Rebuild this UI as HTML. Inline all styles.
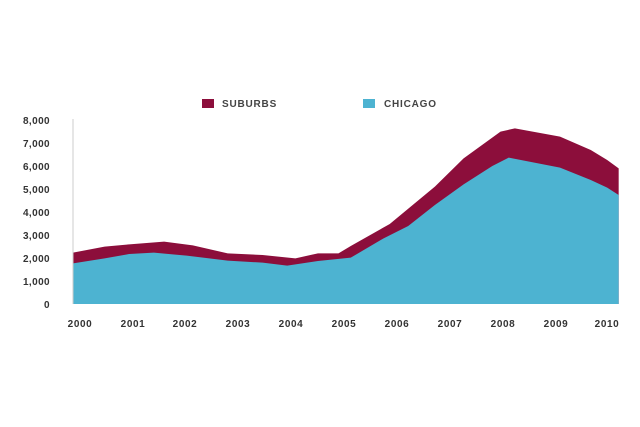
<!DOCTYPE html>
<html><head><meta charset="utf-8"><style>
body{margin:0;background:#fff;}
svg{display:block;font-family:"Liberation Sans",sans-serif;font-weight:bold;}
</style></head><body>
<svg width="640" height="427" viewBox="0 0 640 427">
<rect width="640" height="427" fill="#fff"/>
<g transform="translate(0,90) scale(0.41026,0.33333)">
<polygon fill="#8c0e3b" points="178,642 178,488 255,470 315,463 400,455 470,466 555,490 640,495 720,505 775,490 825,490 855,468 950,402 1060,290 1130,205 1220,125 1255,115 1365,140 1440,180 1480,210 1508,235 1508,642"/>
<polygon fill="#4db3d1" points="178,642 178,520 255,505 315,492 375,488 455,497 555,512 640,518 700,527 775,513 855,503 935,445 995,408 1060,345 1130,283 1200,228 1240,203 1290,215 1365,233 1440,270 1480,293 1508,315 1508,642"/>
</g>
<line x1="73" y1="119" x2="73" y2="304" stroke="#ccc" stroke-width="1"/>
<g font-size="10" fill="#333" text-anchor="end" letter-spacing="0.4">
<text x="50" y="124">8,000</text>
<text x="50" y="147">7,000</text>
<text x="50" y="170">6,000</text>
<text x="50" y="193">5,000</text>
<text x="50" y="216">4,000</text>
<text x="50" y="239">3,000</text>
<text x="50" y="262">2,000</text>
<text x="50" y="285">1,000</text>
<text x="50" y="308">0</text>
</g>
<g font-size="10" fill="#333" text-anchor="middle" letter-spacing="0.6">
<text x="80" y="327">2000</text>
<text x="133" y="327">2001</text>
<text x="185" y="327">2002</text>
<text x="238" y="327">2003</text>
<text x="291" y="327">2004</text>
<text x="344" y="327">2005</text>
<text x="397" y="327">2006</text>
<text x="450" y="327">2007</text>
<text x="503" y="327">2008</text>
<text x="556" y="327">2009</text>
<text x="607" y="327">2010</text>
</g>
<rect x="202" y="99" width="12" height="9" fill="#8c0e3b"/>
<text x="222" y="107" font-size="10" fill="#444" letter-spacing="0.8">SUBURBS</text>
<rect x="363" y="99" width="12" height="9" fill="#4db3d1"/>
<text x="384" y="107" font-size="10" fill="#444" letter-spacing="0.8">CHICAGO</text>
</svg>
</body></html>
